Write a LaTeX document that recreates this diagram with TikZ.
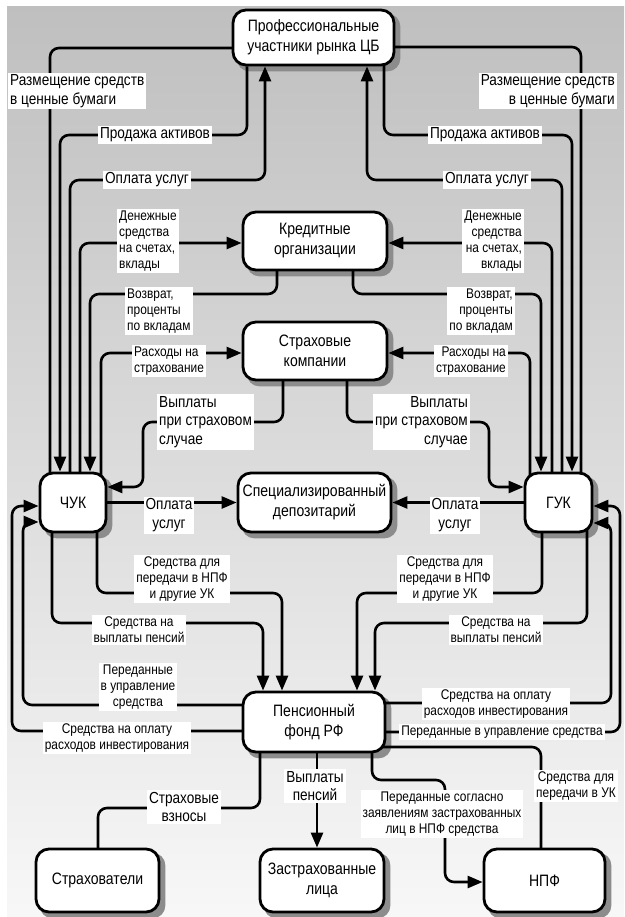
\documentclass[tikz,border=0pt]{standalone}
\usepackage{fontspec}
\setmainfont[FakeStretch=0.85]{Liberation Sans}
\usetikzlibrary{arrows.meta}
\pgfdeclarelayer{bg}
\pgfdeclarelayer{lines}
\pgfsetlayers{bg,lines,main}
\newcommand\lblbig{\fontsize{16}{18.5}\selectfont}
\newcommand\lblsmall{\fontsize{14}{16}\selectfont}
\newcommand\nodefnt{\fontsize{16.5}{20}\selectfont}
\begin{document}
\begin{tikzpicture}[x=1pt,y=-1pt,
 box/.style={draw, line width=2.8pt, rounded corners=13pt, fill=white, align=center, font=\nodefnt, inner sep=0pt},
 conn/.style={line width=2.6pt, rounded corners=9pt},
 arr/.style={conn, -{Triangle[length=15pt,width=12pt]}},
 lb/.style={fill=white, inner sep=2pt, font=\lblbig},
 ls/.style={fill=white, inner sep=2pt, font=\lblsmall}]
\useasboundingbox (0,0) rectangle (624,917);

% nodes
\node[box, minimum width=161pt, minimum height=55pt] (pu) at (313.5,37.5) {Профессиональные\\участники рынка ЦБ};
\node[box, minimum width=144pt, minimum height=58pt] (ko) at (315,241) {Кредитные\\организации};
\node[box, minimum width=144pt, minimum height=58pt] (sk) at (315,351) {Страховые\\компании};
\node[box, minimum width=66pt, minimum height=59pt] (chuk) at (73,502.5) {ЧУК};
\node[box, minimum width=153pt, minimum height=59pt] (sd) at (314.5,502.5) {Специализированный\\депозитарий};
\node[box, minimum width=67pt, minimum height=59pt] (guk) at (558.5,502.5) {ГУК};
\node[box, minimum width=142pt, minimum height=60pt] (pfr) at (314,722) {Пенсионный\\фонд РФ};
\node[box, minimum width=123pt, minimum height=63pt] (strah) at (97.5,880.5) {Страхователи};
\node[box, minimum width=124pt, minimum height=63pt] (zl) at (322,880.5) {Застрахованные\\лица};
\node[box, minimum width=121pt, minimum height=63pt] (npf) at (544.5,880.5) {НПФ};

% labels
\node[lb, align=left, anchor=west] (l1) at (8,91) {Размещение средств\\в ценные бумаги};
\node[lb, align=right, anchor=east] (r1) at (617,91) {Размещение средств\\в ценные бумаги};
\node[lb] (l2) at (155,135) {Продажа активов};
\node[lb] (r2) at (485,135) {Продажа активов};
\node[lb] (l3) at (147,180) {Оплата услуг};
\node[lb] (r3) at (487,180) {Оплата услуг};
\node[ls, align=left, anchor=west] (l4) at (117,241) {Денежные\\средства\\на счетах,\\вклады};
\node[ls, align=right, anchor=east] (r4) at (524,241) {Денежные\\средства\\на счетах,\\вклады};
\node[ls, align=left, anchor=west] (l5) at (125,311) {Возврат,\\проценты\\по вкладам};
\node[ls, align=right, anchor=east] (r5) at (515,311) {Возврат,\\проценты\\по вкладам};
\node[ls, align=left, anchor=west] (l6) at (132,361) {Расходы на\\страхование};
\node[ls, align=right, anchor=east] (r6) at (508,361) {Расходы на\\страхование};
\node[lb, align=left, anchor=west] (l7) at (157,422) {Выплаты\\при страховом\\случае};
\node[lb, align=right, anchor=east] (r7) at (470,422) {Выплаты\\при страховом\\случае};
\node[lb, align=center] (l8) at (169,515) {Оплата\\услуг};
\node[lb, align=center] (r8) at (455,515) {Оплата\\услуг};
\node[ls, align=center] (l9) at (182,579) {Средства для\\передачи в НПФ\\и другие УК};
\node[ls, align=center] (r9) at (445,579) {Средства для\\передачи в НПФ\\и другие УК};
\node[ls, align=center] (l10) at (139,630) {Средства на\\выплаты пенсий};
\node[ls, align=center] (r10) at (496,630) {Средства на\\выплаты пенсий};
\node[ls, align=center] (l11) at (138,687) {Переданные\\в управление\\средства};
\node[ls, align=center] (l12) at (117,738) {Средства на оплату\\расходов инвестирования};
\node[ls, align=center] (r11) at (496,704) {Средства на оплату\\расходов инвестирования};
\node[ls] (r12) at (502,732) {Переданные в управление средства};
\node[lb, align=center] (b1) at (184,807) {Страховые\\взносы};
\node[lb, align=center] (b2) at (315,786) {Выплаты\\пенсий};
\node[ls, align=center] (b3) at (442,814) {Переданные согласно\\заявлениям застрахованных\\лиц в НПФ средства};
\node[ls, align=center] (b4) at (576,786) {Средства для\\передачи в УК};

% background and shadows
\begin{pgfonlayer}{bg}
\shade[top color=black!25,bottom color=black!3] (7,7) rectangle (624,917);
\foreach \n in {pu,ko,sk,chuk,sd,guk,pfr,strah,zl,npf}
  \fill[black!45, rounded corners=13pt] ([shift={(5pt,-5pt)}]\n.south west) rectangle ([shift={(5pt,-5pt)}]\n.north east);
\end{pgfonlayer}

% connectors
\begin{pgfonlayer}{lines}
% top left
\draw[conn] (pu.center |- 0,48) -- (50,48) -- (chuk.center -| 50,0);
\draw[arr] (pu.south -| 247,0) -- (247,135) -- (60,135) -- (chuk.north -| 60,0);
\draw[arr] (chuk.center -| 70,0) -- (70,180) -- (265,180) -- (pu.south -| 265,0);
\draw[arr] (chuk.center -| 80,0) -- (80,243) -- (ko.west |- 0,243);
\draw[arr] (ko.center -| 277,0) -- (277,294) -- (90,294) -- (chuk.north -| 90,0);
\draw[arr] (chuk.center -| 101,0) -- (101,353) -- (sk.west |- 0,353);
% top right
\draw[conn] (pu.center |- 0,47) -- (581,47) -- (guk.center -| 581,0);
\draw[arr] (pu.center -| 384,0) -- (384,135) -- (572,135) -- (guk.north -| 572,0);
\draw[arr] (guk.center -| 562,0) -- (562,180) -- (367,180) -- (pu.south -| 367,0);
\draw[arr] (guk.center -| 552,0) -- (552,243) -- (ko.east |- 0,243);
\draw[arr] (ko.center -| 353,0) -- (353,294) -- (541,294) -- (guk.north -| 541,0);
\draw[arr] (guk.center -| 530,0) -- (530,353) -- (sk.east |- 0,353);
% insurance payouts
\draw[arr] (sk.center -| 283,0) -- (283,422) -- (143,422) -- (143,487) -- (chuk.east |- 0,487);
\draw[arr] (sk.center -| 347,0) -- (347,422) -- (489,422) -- (489,487) -- (guk.west |- 0,487);
% depository
\draw[arr] (chuk) -- (sd);
\draw[arr] (guk) -- (sd);
% lower
\draw[arr] (chuk.center -| 97,0) -- (97,593) -- (282,593) -- (pfr.north -| 282,0);
\draw[arr] (chuk.center -| 52,0) -- (52,623) -- (263,623) -- (pfr.north -| 263,0);
\draw[arr] (guk.center -| 542,0) -- (542,593) -- (357,593) -- (pfr.north -| 357,0);
\draw[arr] (guk.center -| 587,0) -- (587,623) -- (375,623) -- (pfr.north -| 375,0);
\draw[arr] (pfr.center |- 0,705) -- (23,705) -- (23,522) -- (chuk.west |- 0,522);
\draw[arr] (pfr.center |- 0,731) -- (12,731) -- (12,506) -- (chuk.west |- 0,506);
\draw[arr] (pfr.center |- 0,703) -- (611,703) -- (611,523) -- (guk.east |- 0,523);
\draw[arr] (pfr.center |- 0,732) -- (620,732) -- (620,506) -- (guk.east |- 0,506);
% bottom
\draw[conn] (pfr.center -| 260,0) -- (260,808) -- (98,808) -- (strah.center -| 98,0);
\draw[arr] (pfr.center -| 317,0) -- (zl.north -| 317,0);
\draw[arr] (pfr.center -| 372,0) -- (372,780) -- (445,780) -- (445,882) -- (npf.west |- 0,882);
\draw[conn] (pfr.center |- 0,747) -- (541,747) -- (npf.center -| 541,0);
\end{pgfonlayer}
\end{tikzpicture}
\end{document}
